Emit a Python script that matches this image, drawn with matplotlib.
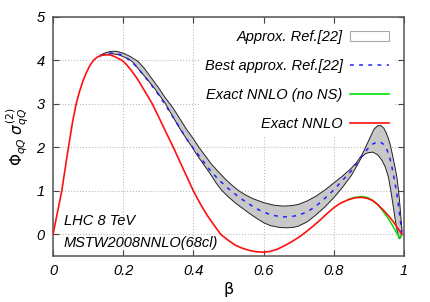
import numpy as np
import matplotlib
matplotlib.use('Agg')
from matplotlib import pyplot as plt
from matplotlib.patches import Patch
from matplotlib.lines import Line2D

plt.rcParams['font.family'] = 'Liberation Sans'
plt.rcParams['mathtext.fontset'] = 'dejavusans'

# exact NNLO
beta_red = [0, 0.005, 0.01, 0.015, 0.02, 0.025, 0.03, 0.035, 0.04, 0.044, 0.05,
            0.055, 0.06, 0.066, 0.075, 0.085, 0.095, 0.105, 0.115, 0.125, 0.135,
            0.145, 0.155, 0.165, 0.175, 0.185, 0.197, 0.21, 0.225, 0.24, 0.255,
            0.27, 0.283, 0.30, 0.32, 0.343, 0.36, 0.38, 0.40, 0.42, 0.44, 0.46,
            0.478, 0.50, 0.52, 0.54, 0.56, 0.58, 0.60, 0.62, 0.64, 0.66, 0.68,
            0.70, 0.72, 0.74, 0.76, 0.78, 0.80, 0.82, 0.84, 0.86, 0.88, 0.895,
            0.91, 0.925, 0.94, 0.955, 0.97, 0.98, 0.988, 0.994]
sig_red = [0, 0.2, 0.4, 0.6, 0.8, 1.0, 1.27, 1.53, 1.8, 2.0, 2.3,
           2.55, 2.76, 3.0, 3.27, 3.52, 3.72, 3.88, 4.0, 4.07, 4.11,
           4.13, 4.13, 4.12, 4.09, 4.05, 4.0, 3.9, 3.75, 3.58, 3.38,
           3.18, 3.0, 2.72, 2.38, 2.0, 1.7, 1.35, 1.0, 0.7, 0.43, 0.2,
           0.0, -0.14, -0.25, -0.32, -0.37, -0.40, -0.41, -0.39, -0.34, -0.26, -0.17,
           -0.07, 0.05, 0.18, 0.32, 0.47, 0.61, 0.72, 0.79, 0.84, 0.85, 0.83,
           0.78, 0.69, 0.57, 0.44, 0.29, 0.17, 0.08, 0.0]

# exact NNLO without NS
beta_green = [0.84, 0.86, 0.88, 0.895, 0.91, 0.925, 0.94, 0.955, 0.965, 0.975,
              0.982, 0.987, 0.991, 0.994]
sig_green = [0.80, 0.85, 0.87, 0.85, 0.79, 0.69, 0.54, 0.37, 0.24, 0.10,
             0.0, -0.08, -0.05, 0.0]

# approx band, upper edge
beta_up = [0.135, 0.145, 0.155, 0.168, 0.18, 0.19, 0.205, 0.22, 0.242, 0.26, 0.28,
           0.30, 0.32, 0.34, 0.36, 0.38, 0.40, 0.416, 0.43, 0.45, 0.47, 0.49,
           0.51, 0.53, 0.55, 0.57, 0.60, 0.63, 0.655, 0.68, 0.70, 0.725, 0.75,
           0.775, 0.80, 0.825, 0.85, 0.865, 0.88, 0.892, 0.905, 0.915, 0.926,
           0.935, 0.943, 0.95, 0.956, 0.961, 0.967, 0.974, 0.98, 0.985, 0.989,
           0.992, 0.995]
sig_up = [4.12, 4.16, 4.19, 4.21, 4.21, 4.19, 4.15, 4.09, 3.98, 3.82, 3.6,
          3.38, 3.14, 2.93, 2.68, 2.42, 2.2, 2.0, 1.85, 1.63, 1.45, 1.28,
          1.13, 1.0, 0.9, 0.82, 0.73, 0.67, 0.65, 0.66, 0.69, 0.77, 0.88,
          1.02, 1.18, 1.34, 1.52, 1.65, 1.82, 2.02, 2.25, 2.42, 2.5,
          2.5, 2.44, 2.33, 2.2, 2.07, 1.85, 1.58, 1.32, 1.0, 0.65,
          0.35, 0.05]

# approx band, lower edge
beta_lo = [0.135, 0.145, 0.155, 0.168, 0.18, 0.19, 0.205, 0.225, 0.25, 0.27, 0.29,
           0.305, 0.321, 0.34, 0.36, 0.38, 0.397, 0.41, 0.43, 0.45, 0.465, 0.48,
           0.50, 0.52, 0.54, 0.56, 0.58, 0.60, 0.62, 0.645, 0.665, 0.685, 0.70,
           0.725, 0.75, 0.775, 0.80, 0.825, 0.85, 0.865, 0.88, 0.89, 0.90, 0.912,
           0.925, 0.937, 0.947, 0.956, 0.963, 0.97, 0.975, 0.98, 0.985, 0.988,
           0.991, 0.994]
sig_lo = [4.10, 4.12, 4.14, 4.15, 4.14, 4.12, 4.07, 3.98, 3.74, 3.55, 3.35,
          3.18, 3.0, 2.73, 2.45, 2.2, 2.0, 1.83, 1.6, 1.37, 1.18, 1.02,
          0.86, 0.72, 0.6, 0.48, 0.37, 0.27, 0.2, 0.16, 0.15, 0.16, 0.19,
          0.29, 0.45, 0.63, 0.84, 1.08, 1.35, 1.56, 1.78, 1.85, 1.88, 1.89,
          1.83, 1.71, 1.55, 1.32, 1.0, 0.63, 0.36, 0.12, -0.07, -0.1,
          -0.07, 0.0]

# best approx
beta_best = [0.135, 0.145, 0.155, 0.165, 0.178, 0.19, 0.205, 0.22, 0.24, 0.26, 0.28,
             0.30, 0.32, 0.34, 0.36, 0.38, 0.40, 0.42, 0.44, 0.46, 0.48, 0.50,
             0.52, 0.54, 0.56, 0.58, 0.60, 0.625, 0.655, 0.68, 0.70, 0.725, 0.75,
             0.775, 0.80, 0.825, 0.85, 0.865, 0.88, 0.895, 0.91, 0.922, 0.932,
             0.942, 0.95, 0.956, 0.961, 0.968, 0.975, 0.98, 0.984, 0.988, 0.991,
             0.994]
sig_best = [4.11, 4.14, 4.16, 4.17, 4.16, 4.14, 4.08, 4.0, 3.84, 3.64, 3.44,
            3.22, 2.98, 2.72, 2.47, 2.2, 1.98, 1.77, 1.55, 1.36, 1.2, 1.05,
            0.92, 0.8, 0.69, 0.59, 0.51, 0.44, 0.40, 0.41, 0.44, 0.52, 0.65,
            0.83, 1.02, 1.24, 1.46, 1.62, 1.8, 1.95, 2.07, 2.12, 2.13,
            2.07, 1.98, 1.86, 1.72, 1.47, 1.17, 0.93, 0.7, 0.45, 0.25,
            0.0]

fig = plt.figure(figsize=(4.31, 3.02), dpi=100)
ax = fig.add_axes([0.123, 0.152, 0.814, 0.792])

# band as polygon between upper and lower edges
bx = np.concatenate([beta_up, beta_lo[::-1]])
by = np.concatenate([sig_up, sig_lo[::-1]])
ax.fill(bx, by, facecolor='#c8c8c8', edgecolor='none', zorder=2)
ax.plot(beta_up, sig_up, color='#222222', lw=0.7, zorder=3)
ax.plot(beta_lo, sig_lo, color='#222222', lw=0.7, zorder=3)
ax.plot(beta_best, sig_best, color='#2020ff', lw=1.1, ls=(0, (2.5, 3.5)), zorder=4)
ax.plot(beta_green, sig_green, color='#00e000', lw=1.1, zorder=5)
ax.plot(beta_red, sig_red, color='#ff1010', lw=1.2, zorder=6)

ax.set_xlim(0, 1)
ax.set_ylim(-0.5, 5)
ax.set_xticks([0, 0.2, 0.4, 0.6, 0.8, 1])
ax.set_xticklabels(['0', '0.2', '0.4', '0.6', '0.8', '1'])
ax.set_yticks([0, 1, 2, 3, 4, 5])
ax.grid(True, color='#bbbbbb', ls=':', lw=0.8)
ax.set_axisbelow(True)
ax.tick_params(direction='in', top=True, right=True, length=4, width=0.8,
               labelsize=10.5, colors='#444444', labelcolor='black', pad=6)
for lab in ax.get_xticklabels() + ax.get_yticklabels():
    lab.set_fontstyle('italic')
for s in ax.spines.values():
    s.set_color('#555555')
    s.set_linewidth(1.1)

ax.set_xlabel(r'$\mathrm{\beta}$', fontsize=11.5, labelpad=1)
ax.set_ylabel(r'$\Phi_{qQ}\;\sigma_{qQ}^{(2)}$', fontsize=11)

handles = [Patch(facecolor='white', edgecolor='#aaaaaa', lw=0.8),
           Line2D([], [], color='#2020ff', lw=1.1, ls=(0, (2.5, 3.5))),
           Line2D([], [], color='#00e000', lw=1.2),
           Line2D([], [], color='#ff1010', lw=1.2)]
labels = ['Approx. Ref.[22]', 'Best approx. Ref.[22]', 'Exact NNLO (no NS)', 'Exact NNLO']
leg = ax.legend(handles, labels, loc='upper right', bbox_to_anchor=(0.975, 0.968),
                markerfirst=False, frameon=True, facecolor='white', edgecolor='none',
                framealpha=1, fancybox=False, handlelength=2.7, handletextpad=0.5,
                labelspacing=1.02, borderaxespad=0, prop={'style': 'italic', 'size': 10.5})
# key box hides the grid but sits under the curves
leg.set_zorder(1.5)

ax.text(0.031, 0.146, 'LHC 8 TeV', transform=ax.transAxes, style='italic',
        fontsize=10.5, va='center', zorder=11)
ax.text(0.031, 0.054, 'MSTW2008NNLO(68cl)', transform=ax.transAxes, style='italic',
        fontsize=10.5, va='center', zorder=11)

fig.savefig('out.png', dpi=100)
